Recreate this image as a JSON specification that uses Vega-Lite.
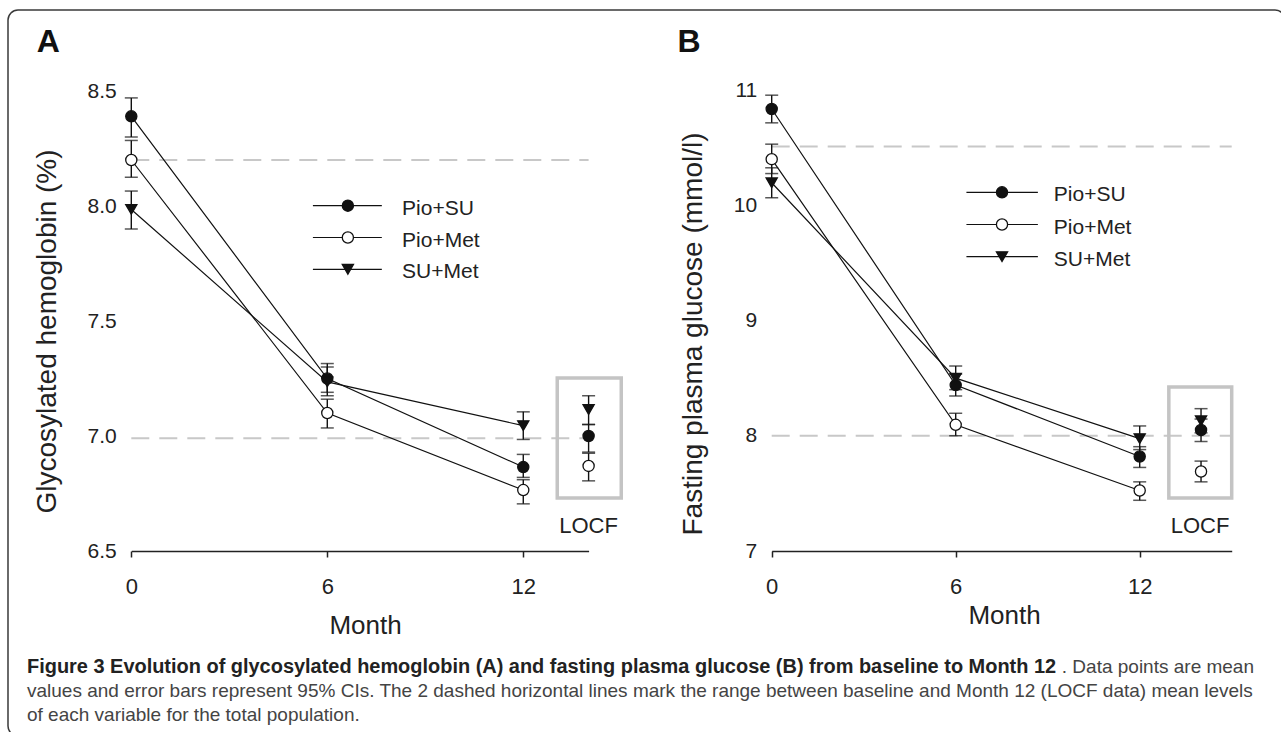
{
  "$schema": "https://vega.github.io/schema/vega-lite/v6.json",
  "width": 1281,
  "height": 732,
  "autosize": {"type": "fit", "contains": "padding"},
  "padding": {"left": 8, "top": 10, "right": -4, "bottom": -4},
  "background": "white",
  "config": {
    "font": "Liberation Sans",
    "view": {"stroke": "#3a3a3a", "strokeWidth": 1.5, "cornerRadius": 10},
    "axis": {"grid": false, "labelFont": "Liberation Sans", "titleFont": "Liberation Sans", "labelColor": "#222", "titleColor": "#222", "titleFontWeight": "normal", "labelFlush": false},
    "text": {"font": "Liberation Sans"}
  },
  "datasets": {
    "means": [
      {"panel": "A", "series": "Pio+SU", "visit": "0", "month": 0, "mean": 8.39, "lo": 8.30, "hi": 8.47},
      {"panel": "A", "series": "Pio+Met", "visit": "0", "month": 0, "mean": 8.20, "lo": 8.125, "hi": 8.285},
      {"panel": "A", "series": "SU+Met", "visit": "0", "month": 0, "mean": 7.985, "lo": 7.90, "hi": 8.065},
      {"panel": "A", "series": "Pio+SU", "visit": "6", "month": 6, "mean": 7.25, "lo": 7.19, "hi": 7.315},
      {"panel": "A", "series": "Pio+Met", "visit": "6", "month": 6, "mean": 7.10, "lo": 7.035, "hi": 7.16},
      {"panel": "A", "series": "SU+Met", "visit": "6", "month": 6, "mean": 7.235, "lo": 7.175, "hi": 7.30},
      {"panel": "A", "series": "Pio+SU", "visit": "12", "month": 12, "mean": 6.865, "lo": 6.82, "hi": 6.92},
      {"panel": "A", "series": "Pio+Met", "visit": "12", "month": 12, "mean": 6.765, "lo": 6.705, "hi": 6.81},
      {"panel": "A", "series": "SU+Met", "visit": "12", "month": 12, "mean": 7.045, "lo": 6.985, "hi": 7.105},
      {"panel": "A", "series": "Pio+SU", "visit": "LOCF", "month": 14, "mean": 7.0, "lo": 6.93, "hi": 7.05},
      {"panel": "A", "series": "Pio+Met", "visit": "LOCF", "month": 14, "mean": 6.87, "lo": 6.805, "hi": 6.925},
      {"panel": "A", "series": "SU+Met", "visit": "LOCF", "month": 14, "mean": 7.115, "lo": 7.05, "hi": 7.175},
      {"panel": "B", "series": "Pio+SU", "visit": "0", "month": 0, "mean": 10.835, "lo": 10.715, "hi": 10.955},
      {"panel": "B", "series": "Pio+Met", "visit": "0", "month": 0, "mean": 10.40, "lo": 10.275, "hi": 10.53},
      {"panel": "B", "series": "SU+Met", "visit": "0", "month": 0, "mean": 10.195, "lo": 10.065, "hi": 10.325},
      {"panel": "B", "series": "Pio+SU", "visit": "6", "month": 6, "mean": 8.44, "lo": 8.345, "hi": 8.535},
      {"panel": "B", "series": "Pio+Met", "visit": "6", "month": 6, "mean": 8.095, "lo": 8.0, "hi": 8.195},
      {"panel": "B", "series": "SU+Met", "visit": "6", "month": 6, "mean": 8.50, "lo": 8.40, "hi": 8.605},
      {"panel": "B", "series": "Pio+SU", "visit": "12", "month": 12, "mean": 7.82, "lo": 7.725, "hi": 7.905},
      {"panel": "B", "series": "Pio+Met", "visit": "12", "month": 12, "mean": 7.525, "lo": 7.44, "hi": 7.60},
      {"panel": "B", "series": "SU+Met", "visit": "12", "month": 12, "mean": 7.975, "lo": 7.88, "hi": 8.085},
      {"panel": "B", "series": "Pio+SU", "visit": "LOCF", "month": 14, "mean": 8.05, "lo": 7.95, "hi": 8.145},
      {"panel": "B", "series": "Pio+Met", "visit": "LOCF", "month": 14, "mean": 7.69, "lo": 7.60, "hi": 7.78},
      {"panel": "B", "series": "SU+Met", "visit": "LOCF", "month": 14, "mean": 8.13, "lo": 8.025, "hi": 8.235}
    ],
    "refs": [
      {"panel": "A", "ref": "baseline", "level": 8.20},
      {"panel": "A", "ref": "Month 12 LOCF", "level": 6.99},
      {"panel": "B", "ref": "baseline", "level": 10.51},
      {"panel": "B", "ref": "Month 12 LOCF", "level": 8.0}
    ],
    "locf": [
      {"panel": "A", "label": "LOCF"},
      {"panel": "B", "label": "LOCF"}
    ],
    "legend": [
      {"series": "Pio+SU"},
      {"series": "Pio+Met"},
      {"series": "SU+Met"}
    ],
    "caption": [
      {"line": 1, "part": "lead", "text": "Figure 3 Evolution of glycosylated hemoglobin (A) and fasting plasma glucose (B) from baseline to Month 12"},
      {"line": 1, "part": "tail", "text": ". Data points are mean"},
      {"line": 2, "part": "body", "text": "values and error bars represent 95% CIs. The 2 dashed horizontal lines mark the range between baseline and Month 12 (LOCF data) mean levels"},
      {"line": 3, "part": "body", "text": "of each variable for the total population."}
    ]
  },
  "layer": [
    {
      "layer": [
        {
          "layer": [
            {
              "data": {"name": "refs"},
              "transform": [{"filter": "datum.panel === 'A'"}],
              "mark": {"type": "rule", "color": "#c8c8c8", "strokeWidth": 2, "strokeDash": [18, 10]},
              "encoding": {
                "x": {"datum": 0, "type": "quantitative", "scale": {"domain": [0, 14], "range": [123.3, 580.6], "nice": false, "zero": false}},
                "x2": {"datum": 14},
                "y": {"field": "level", "type": "quantitative", "title": "Glycosylated hemoglobin (%)", "scale": {"domain": [6.5, 8.5], "range": [541, 81], "nice": false, "zero": false}}
              }
            },
            {
              "data": {"name": "locf"},
              "transform": [{"filter": "datum.panel === 'A'"}],
              "mark": {"type": "rect", "filled": false, "stroke": "#c4c4c4", "strokeWidth": 3.5},
              "encoding": {
                "x": {"datum": 13.04, "type": "quantitative"},
                "x2": {"datum": 15.0},
                "y": {"datum": 7.252, "type": "quantitative"},
                "y2": {"datum": 6.73}
              }
            },
            {
              "data": {"name": "locf"},
              "transform": [{"filter": "datum.panel === 'A'"}],
              "mark": {"type": "text", "fontSize": 22, "align": "center", "baseline": "alphabetic", "color": "#222"},
              "encoding": {
                "x": {"datum": 14, "type": "quantitative"},
                "y": {"datum": 6.578, "type": "quantitative"},
                "text": {"field": "label"}
              }
            },
            {
              "data": {"name": "locf"},
              "transform": [{"filter": "datum.panel === 'A'"}],
              "mark": {"type": "text", "fontSize": 32, "fontWeight": "bold", "align": "left", "baseline": "alphabetic", "color": "#111"},
              "encoding": {
                "x": {"datum": -2.896, "type": "quantitative"},
                "y": {"datum": 8.67, "type": "quantitative"},
                "text": {"field": "panel"}
              }
            },
            {
              "data": {"name": "means"},
              "transform": [{"filter": "datum.panel === 'A' && datum.month <= 12"}],
              "mark": {"type": "line", "color": "#111", "strokeWidth": 1.2},
              "encoding": {
                "x": {"field": "month", "type": "quantitative", "title": "Month", "scale": {"domain": [0, 14], "range": [123.3, 580.6], "nice": false, "zero": false},
                  "axis": {"orient": "bottom", "offset": -185, "values": [0, 6, 12], "format": "d", "domainColor": "#222", "domainWidth": 1.5, "tickColor": "#222", "tickWidth": 1.5, "tickSize": 6, "labelFontSize": 22, "labelPadding": 19, "title": "Month", "titleFontSize": 26, "titleX": 357, "titleY": 82, "titleBaseline": "alphabetic", "titleAlign": "center"}},
                "y": {"field": "mean", "type": "quantitative", "title": "Glycosylated hemoglobin (%)", "scale": {"domain": [6.5, 8.5], "range": [541, 81], "nice": false, "zero": false},
                  "axis": {"orient": "left", "offset": -123.3, "values": [6.5, 7, 7.5, 8, 8.5], "format": ".1f", "domain": false, "ticks": false, "tickSize": 0, "labelPadding": 15, "labelFontSize": 21, "title": "Glycosylated hemoglobin (%)", "titleFontSize": 28, "titleX": -76, "titleY": 321, "titleAngle": 270, "titleBaseline": "alphabetic", "titleAlign": "center"}},
                "detail": {"field": "series", "type": "nominal"}
              }
            },
            {
              "data": {"name": "means"},
              "transform": [{"filter": "datum.panel === 'A'"}],
              "mark": {"type": "errorbar", "ticks": {"size": 13, "thickness": 1.5, "color": "#111"}, "rule": {"strokeWidth": 1.4, "color": "#111"}},
              "encoding": {
                "x": {"field": "month", "type": "quantitative", "title": "Month"},
                "y": {"field": "lo", "type": "quantitative", "title": "Glycosylated hemoglobin (%)"},
                "y2": {"field": "hi"}
              }
            },
            {
              "data": {"name": "means"},
              "transform": [{"filter": "datum.panel === 'A'"}],
              "mark": {"type": "point", "filled": true, "stroke": "#111", "strokeWidth": 1.3, "size": 125, "opacity": 1},
              "encoding": {
                "x": {"field": "month", "type": "quantitative", "title": "Month"},
                "y": {"field": "mean", "type": "quantitative", "title": "Glycosylated hemoglobin (%)"},
                "shape": {"field": "series", "type": "nominal", "scale": {"domain": ["Pio+SU", "Pio+Met", "SU+Met"], "range": ["circle", "circle", "triangle-down"]}, "legend": null},
                "fill": {"field": "series", "type": "nominal", "scale": {"domain": ["Pio+SU", "Pio+Met", "SU+Met"], "range": ["#111111", "#ffffff", "#111111"]}, "legend": null}
              }
            }
          ]
        },
        {
          "data": {"name": "legend"},
          "encoding": {
            "y": {"field": "series", "type": "nominal", "scale": {"type": "point", "domain": ["Pio+SU", "Pio+Met", "SU+Met"], "range": [195.7, 259.3], "padding": 0}, "axis": null}
          },
          "layer": [
            {
              "mark": {"type": "rule", "color": "#111", "strokeWidth": 1.2},
              "encoding": {"x": {"datum": 5.56, "type": "quantitative"}, "x2": {"datum": 7.67}}
            },
            {
              "mark": {"type": "point", "filled": true, "stroke": "#111", "strokeWidth": 1.3, "size": 125, "opacity": 1},
              "encoding": {
                "x": {"datum": 6.63, "type": "quantitative"},
                "shape": {"field": "series", "type": "nominal", "legend": null},
                "fill": {"field": "series", "type": "nominal", "legend": null}
              }
            },
            {
              "mark": {"type": "text", "fontSize": 21, "align": "left", "baseline": "middle", "dy": 3, "color": "#222"},
              "encoding": {"x": {"datum": 8.29, "type": "quantitative"}, "text": {"field": "series"}}
            }
          ]
        }
      ],
      "resolve": {"scale": {"y": "independent"}}
    },
    {
      "layer": [
        {
          "layer": [
            {
              "data": {"name": "refs"},
              "transform": [{"filter": "datum.panel === 'B'"}],
              "mark": {"type": "rule", "color": "#c8c8c8", "strokeWidth": 2, "strokeDash": [18, 10]},
              "encoding": {
                "x": {"datum": 0, "type": "quantitative", "scale": {"domain": [0, 15], "range": [763.7, 1223.7], "nice": false, "zero": false}},
                "x2": {"datum": 15},
                "y": {"field": "level", "type": "quantitative", "title": "Fasting plasma glucose (mmol/l)", "scale": {"domain": [7, 11], "range": [541, 80], "nice": false, "zero": false}}
              }
            },
            {
              "data": {"name": "locf"},
              "transform": [{"filter": "datum.panel === 'B'"}],
              "mark": {"type": "rect", "filled": false, "stroke": "#c4c4c4", "strokeWidth": 3.5},
              "encoding": {
                "x": {"datum": 12.95, "type": "quantitative"},
                "x2": {"datum": 15.0},
                "y": {"datum": 8.423, "type": "quantitative"},
                "y2": {"datum": 7.46}
              }
            },
            {
              "data": {"name": "locf"},
              "transform": [{"filter": "datum.panel === 'B'"}],
              "mark": {"type": "text", "fontSize": 22, "align": "center", "baseline": "alphabetic", "color": "#222"},
              "encoding": {
                "x": {"datum": 13.97, "type": "quantitative"},
                "y": {"datum": 7.156, "type": "quantitative"},
                "text": {"field": "label"}
              }
            },
            {
              "data": {"name": "locf"},
              "transform": [{"filter": "datum.panel === 'B'"}],
              "mark": {"type": "text", "fontSize": 32, "fontWeight": "bold", "align": "left", "baseline": "alphabetic", "color": "#111"},
              "encoding": {
                "x": {"datum": -3.07, "type": "quantitative"},
                "y": {"datum": 11.33, "type": "quantitative"},
                "text": {"field": "panel"}
              }
            },
            {
              "data": {"name": "means"},
              "transform": [{"filter": "datum.panel === 'B' && datum.month <= 12"}],
              "mark": {"type": "line", "color": "#111", "strokeWidth": 1.2},
              "encoding": {
                "x": {"field": "month", "type": "quantitative", "title": "Month", "scale": {"domain": [0, 15], "range": [763.7, 1223.7], "nice": false, "zero": false},
                  "axis": {"orient": "bottom", "offset": -185, "values": [0, 6, 12], "format": "d", "domainColor": "#222", "domainWidth": 1.5, "tickColor": "#222", "tickWidth": 1.5, "tickSize": 6, "labelFontSize": 22, "labelPadding": 19, "title": "Month", "titleFontSize": 26, "titleX": 996, "titleY": 72, "titleBaseline": "alphabetic", "titleAlign": "center"}},
                "y": {"field": "mean", "type": "quantitative", "title": "Fasting plasma glucose (mmol/l)", "scale": {"domain": [7, 11], "range": [541, 80], "nice": false, "zero": false},
                  "axis": {"orient": "left", "offset": -763.7, "values": [7, 8, 9, 10, 11], "format": "d", "domain": false, "ticks": false, "tickSize": 0, "labelPadding": 15, "labelFontSize": 21, "title": "Fasting plasma glucose (mmol/l)", "titleFontSize": 28, "titleX": -70.5, "titleY": 323.5, "titleAngle": 270, "titleBaseline": "alphabetic", "titleAlign": "center"}},
                "detail": {"field": "series", "type": "nominal"}
              }
            },
            {
              "data": {"name": "means"},
              "transform": [{"filter": "datum.panel === 'B'"}],
              "mark": {"type": "errorbar", "ticks": {"size": 13, "thickness": 1.5, "color": "#111"}, "rule": {"strokeWidth": 1.4, "color": "#111"}},
              "encoding": {
                "x": {"field": "month", "type": "quantitative", "title": "Month"},
                "y": {"field": "lo", "type": "quantitative", "title": "Fasting plasma glucose (mmol/l)"},
                "y2": {"field": "hi"}
              }
            },
            {
              "data": {"name": "means"},
              "transform": [{"filter": "datum.panel === 'B'"}],
              "mark": {"type": "point", "filled": true, "stroke": "#111", "strokeWidth": 1.3, "size": 125, "opacity": 1},
              "encoding": {
                "x": {"field": "month", "type": "quantitative", "title": "Month"},
                "y": {"field": "mean", "type": "quantitative", "title": "Fasting plasma glucose (mmol/l)"},
                "shape": {"field": "series", "type": "nominal", "legend": null},
                "fill": {"field": "series", "type": "nominal", "legend": null}
              }
            }
          ]
        },
        {
          "data": {"name": "legend"},
          "encoding": {
            "y": {"field": "series", "type": "nominal", "scale": {"type": "point", "domain": ["Pio+SU", "Pio+Met", "SU+Met"], "range": [182.3, 246.7], "padding": 0}, "axis": null}
          },
          "layer": [
            {
              "mark": {"type": "rule", "color": "#111", "strokeWidth": 1.2},
              "encoding": {"x": {"datum": 6.35, "type": "quantitative"}, "x2": {"datum": 8.68}}
            },
            {
              "mark": {"type": "point", "filled": true, "stroke": "#111", "strokeWidth": 1.3, "size": 125, "opacity": 1},
              "encoding": {
                "x": {"datum": 7.51, "type": "quantitative"},
                "shape": {"field": "series", "type": "nominal", "legend": null},
                "fill": {"field": "series", "type": "nominal", "legend": null}
              }
            },
            {
              "mark": {"type": "text", "fontSize": 21, "align": "left", "baseline": "middle", "dy": 3, "color": "#222"},
              "encoding": {"x": {"datum": 9.2, "type": "quantitative"}, "text": {"field": "series"}}
            }
          ]
        }
      ],
      "resolve": {"scale": {"y": "independent"}}
    },
    {
      "data": {"name": "caption"},
      "encoding": {
        "y": {"field": "line", "type": "quantitative", "scale": {"domain": [1, 3], "range": [663, 711], "nice": false, "zero": false}, "axis": null}
      },
      "layer": [
        {
          "transform": [{"filter": "datum.part === 'lead'"}],
          "mark": {"type": "text", "align": "left", "baseline": "alphabetic", "fontSize": 19.95, "fontWeight": "bold", "color": "#222"},
          "encoding": {"x": {"datum": 0, "type": "quantitative", "scale": {"domain": [0, 1], "range": [19, 1246], "nice": false, "zero": false}, "axis": null}, "text": {"field": "text"}}
        },
        {
          "transform": [{"filter": "datum.part === 'tail'"}],
          "mark": {"type": "text", "align": "right", "baseline": "alphabetic", "fontSize": 19, "color": "#444"},
          "encoding": {"x": {"datum": 1, "type": "quantitative"}, "text": {"field": "text"}}
        },
        {
          "transform": [{"filter": "datum.part === 'body'"}],
          "mark": {"type": "text", "align": "left", "baseline": "alphabetic", "fontSize": 19, "color": "#444"},
          "encoding": {"x": {"datum": 0, "type": "quantitative"}, "text": {"field": "text"}}
        }
      ]
    }
  ],
  "resolve": {"scale": {"x": "independent", "y": "independent"}}
}
